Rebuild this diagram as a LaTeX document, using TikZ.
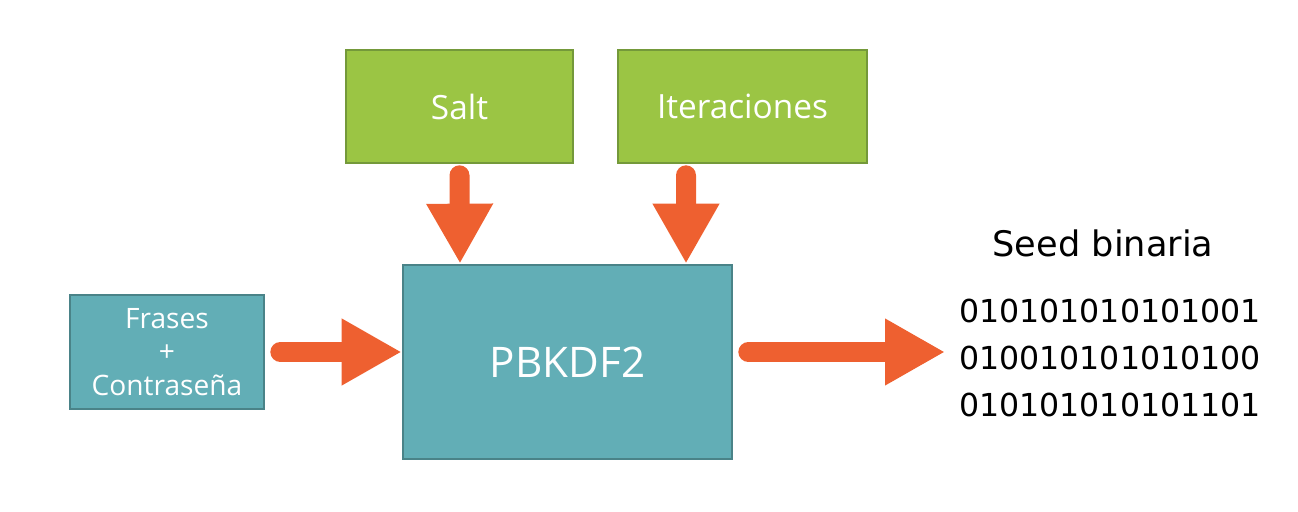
\documentclass[tikz,border=0pt]{standalone}
\usepackage{fontspec}
\setmainfont{Open Sans}
\newfontfamily\seedfont{DejaVu Sans}
\usetikzlibrary{arrows.meta,positioning}
\definecolor{boxgreen}{HTML}{9BC544}
\definecolor{boxgreenline}{HTML}{74993A}
\definecolor{boxteal}{HTML}{62AEB6}
\definecolor{boxtealline}{HTML}{4A8388}
\definecolor{arroworange}{HTML}{EE6030}

\tikzset{
  greenbox/.style={draw=boxgreenline, fill=boxgreen, line width=1.5pt, text=white, font=\fontsize{19}{22}\selectfont},
  tealbox/.style={draw=boxtealline, fill=boxteal, line width=1.5pt, text=white},
  fatarrow/.style={draw=arroworange, line width=0.4cm, line cap=round,
    -{Triangle[length=1.2cm, width=1.25cm]}}
}

\begin{document}
\begin{tikzpicture}
\useasboundingbox (0,0) rectangle (25.96,10.22);

%Inputs
\node[greenbox, minimum width=4.54cm, minimum height=2.26cm] (salt) at (9.19,8.09) {Salt};
\node[greenbox, minimum width=4.98cm, minimum height=2.26cm] (iter) at (14.85,8.09) {Iteraciones};
\node[tealbox, minimum width=3.88cm, minimum height=2.28cm, align=center,
  font=\fontsize{16}{19}\selectfont] (frases) at (3.34,3.18) {Frases\\+\\Contraseña};

%Key derivation
\node[tealbox, minimum width=6.58cm, minimum height=3.88cm,
  font=\fontsize{24}{28}\selectfont] (pbk) at (11.35,2.98) {PBKDF2};

%Output
\coordinate (out) at (18.9,3.18);
\node[font=\seedfont\fontsize{20}{24}\selectfont] (seedlbl) at (22.06,5.36) {Seed binaria};
\node[font=\seedfont\fontsize{18}{26.5}\selectfont, align=center] (bits) at (22.2,3.06)
  {010101010101001\\010010101010100\\010101010101101};

%Arrows
\draw[fatarrow] ([yshift=-0.22cm]salt.south) -- ([xshift=-2.15cm]pbk.north);
\draw[fatarrow] ([xshift=-1.13cm,yshift=-0.22cm]iter.south) -- ([xshift=2.37cm]pbk.north);
\draw[fatarrow] ([xshift=0.3cm]frases.east) -- ([yshift=0.2cm]pbk.west);
\draw[fatarrow] ([xshift=0.3cm,yshift=0.2cm]pbk.east) -- (out);
\end{tikzpicture}
\end{document}
